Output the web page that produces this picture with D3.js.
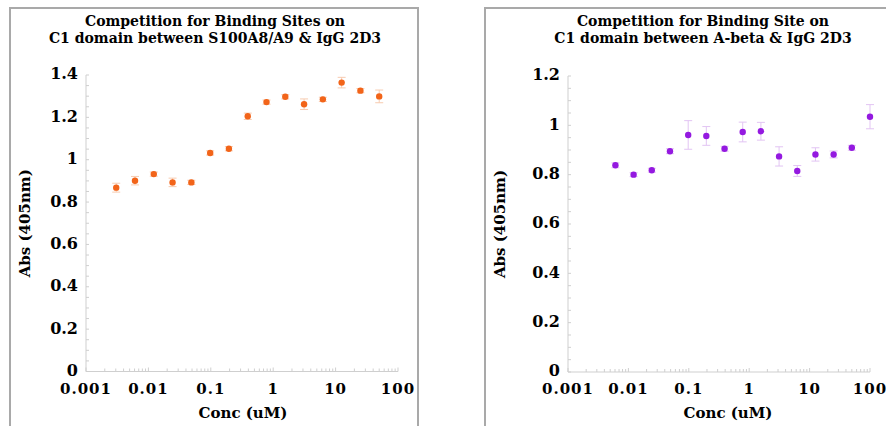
<!DOCTYPE html>
<html>
<head>
<meta charset="utf-8">
<script src="https://cdn.jsdelivr.net/npm/d3@7"></script>
<style>
  body { margin: 0; background: #fff; }
  svg { display: block; font-family: "DejaVu Serif", Georgia, serif; font-weight: bold; }
</style>
</head>
<body>
<svg id="chart" width="886" height="426"></svg>
<script>
// concentrations (uM), two-fold dilutions
const concS100 = [0.00305, 0.0061, 0.0122, 0.0244, 0.0488, 0.0977, 0.195, 0.391, 0.781, 1.5625, 3.125, 6.25, 12.5, 25, 50];
const absS100 = [0.868, 0.901, 0.932, 0.893, 0.893, 1.032, 1.052, 1.205, 1.272, 1.297, 1.262, 1.285, 1.364, 1.326, 1.299];
const errS100 = [0.021, 0.02, 0.01, 0.02, 0.01, 0.01, 0.01, 0.015, 0.01, 0.01, 0.025, 0.01, 0.025, 0.01, 0.03];

const concAbeta = [0.0061, 0.0122, 0.0244, 0.0488, 0.0977, 0.195, 0.391, 0.781, 1.5625, 3.125, 6.25, 12.5, 25, 50, 100];
const absAbeta = [0.838, 0.800, 0.818, 0.895, 0.961, 0.957, 0.905, 0.973, 0.976, 0.874, 0.815, 0.882, 0.882, 0.909, 1.035];
const errAbeta = [0.01, 0.008, 0.008, 0.01, 0.058, 0.038, 0.01, 0.04, 0.036, 0.039, 0.022, 0.027, 0.014, 0.01, 0.049];

const xTicks = [0.001, 0.01, 0.1, 1, 10, 100];
const xTickLabels = ["0.001", "0.01", "0.1", "1", "10", "100"];
const yTicksS100 = [0, 0.2, 0.4, 0.6, 0.8, 1, 1.2, 1.4];
const yTicksAbeta = [0, 0.2, 0.4, 0.6, 0.8, 1, 1.2];

const svg = d3.select("#chart");

function drawPanel(p) {
  const g = svg.append("g");

  // frame around the panel
  g.append("rect")
    .attr("x", p.box[0]).attr("y", p.box[1])
    .attr("width", p.box[2]).attr("height", p.box[3])
    .attr("fill", "none")
    .attr("stroke", "#a9a9a9")
    .attr("stroke-width", 2);

  const x = d3.scaleLog().domain([0.001, 100]).range([p.left, p.right]);
  const y = d3.scaleLinear().domain([0, p.yMax]).range([p.bottom, p.top]);

  // title
  g.append("text")
    .attr("x", p.titleX).attr("y", 26)
    .attr("text-anchor", "middle")
    .attr("font-size", 14)
    .text(p.title[0]);
  g.append("text")
    .attr("x", p.titleX).attr("y", 43)
    .attr("text-anchor", "middle")
    .attr("font-size", 14)
    .text(p.title[1]);

  // y axis: inward ticks, minor every 0.05
  const yAxis = g.append("g").attr("transform", `translate(${p.left},0)`);
  yAxis.append("line")
    .attr("x1", 0).attr("x2", 0)
    .attr("y1", y(0)).attr("y2", y(p.yMax))
    .attr("stroke", "#cfcfcf");
  yAxis.selectAll(".minor")
    .data(d3.range(0, p.yMax + 0.001, 0.05))
    .join("line")
    .attr("x1", 0).attr("x2", 3)
    .attr("y1", d => y(d)).attr("y2", d => y(d))
    .attr("stroke", "#cfcfcf");
  yAxis.selectAll(".lab")
    .data(p.yTicks)
    .join("text")
    .attr("x", -8)
    .attr("y", d => y(d))
    .attr("dy", "0.28em")
    .attr("text-anchor", "end")
    .attr("font-size", 16)
    .text(d => String(+d.toFixed(1)));

  // x axis: log, inward ticks
  const xAxis = g.append("g").attr("transform", `translate(0,${p.bottom})`);
  xAxis.append("line")
    .attr("x1", x(0.001)).attr("x2", x(100))
    .attr("stroke", "#cfcfcf");
  const minor = [];
  xTicks.slice(0, -1).forEach(t => { for (let k = 2; k <= 9; k++) minor.push(t * k); });
  xAxis.selectAll(".minor")
    .data(minor)
    .join("line")
    .attr("x1", d => x(d)).attr("x2", d => x(d))
    .attr("y1", 0).attr("y2", -3)
    .attr("stroke", "#cfcfcf");
  xAxis.selectAll(".major")
    .data(xTicks)
    .join("line")
    .attr("x1", d => x(d)).attr("x2", d => x(d))
    .attr("y1", 0).attr("y2", -4)
    .attr("stroke", "#cfcfcf");
  xAxis.selectAll(".lab")
    .data(xTicks)
    .join("text")
    .attr("x", d => x(d))
    .attr("y", 22)
    .attr("text-anchor", "middle")
    .attr("font-size", 15)
    .attr("letter-spacing", 1)
    .text((d, i) => xTickLabels[i]);

  // axis titles
  g.append("text")
    .attr("x", p.xTitleX).attr("y", 418)
    .attr("text-anchor", "middle")
    .attr("font-size", 15)
    .text("Conc (uM)");
  g.append("text")
    .attr("transform", `translate(${p.yTitleX},${(p.top + p.bottom) / 2}) rotate(-90)`)
    .attr("text-anchor", "middle")
    .attr("font-size", 15)
    .text("Abs (405nm)");

  // error bars
  const pts = p.conc.map((c, i) => ({ c: c, v: p.abs[i], e: p.err[i] }));
  const eb = g.append("g").attr("stroke", p.errColor).attr("stroke-width", 1);
  eb.selectAll(".v")
    .data(pts)
    .join("line")
    .attr("x1", d => x(d.c)).attr("x2", d => x(d.c))
    .attr("y1", d => y(d.v - d.e)).attr("y2", d => y(d.v + d.e));
  eb.selectAll(".t")
    .data(pts)
    .join("line")
    .attr("x1", d => x(d.c) - 4).attr("x2", d => x(d.c) + 4)
    .attr("y1", d => y(d.v + d.e)).attr("y2", d => y(d.v + d.e));
  eb.selectAll(".b")
    .data(pts)
    .join("line")
    .attr("x1", d => x(d.c) - 4).attr("x2", d => x(d.c) + 4)
    .attr("y1", d => y(d.v - d.e)).attr("y2", d => y(d.v - d.e));

  // points
  g.append("g")
    .selectAll("circle")
    .data(pts)
    .join("circle")
    .attr("cx", d => x(d.c))
    .attr("cy", d => y(d.v))
    .attr("r", 3.2)
    .attr("fill", p.color);
}

drawPanel({
  box: [10, 8, 408, 440],
  left: 86, right: 398, top: 75, bottom: 371.5,
  yMax: 1.4, yTicks: yTicksS100,
  title: ["Competition for Binding Sites on", "C1 domain between S100A8/A9 & IgG 2D3"],
  titleX: 215, xTitleX: 243, yTitleX: 30,
  conc: concS100, abs: absS100, err: errS100,
  color: "#f26419", errColor: "#f7cbb0"
});

drawPanel({
  box: [485, 8, 440, 440],
  left: 568, right: 870, top: 76, bottom: 372,
  yMax: 1.2, yTicks: yTicksAbeta,
  title: ["Competition for Binding Site on", "C1 domain between A-beta & IgG 2D3"],
  titleX: 703, xTitleX: 728, yTitleX: 505,
  conc: concAbeta, abs: absAbeta, err: errAbeta,
  color: "#9419e0", errColor: "#e2c4f3"
});
</script>
</body>
</html>
